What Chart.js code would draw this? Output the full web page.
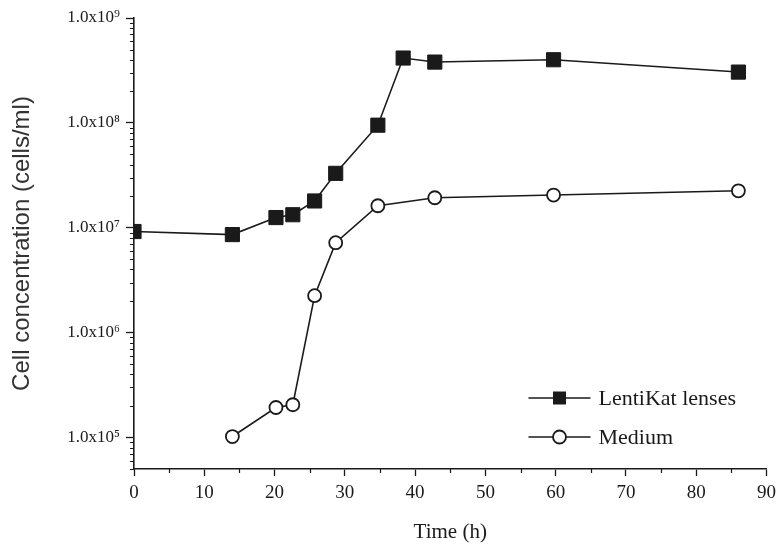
<!DOCTYPE html>
<html>
<head>
<meta charset="utf-8">
<script src="https://cdn.jsdelivr.net/npm/chart.js@4/dist/chart.umd.min.js"></script>
<style>
  html, body { margin: 0; padding: 0; background: #fff; }
  #wrap { width: 782px; height: 553px; }
</style>
</head>
<body>
<div id="wrap"><canvas id="chart" width="782" height="553"></canvas></div>
<script>
// time points (h) and cell counts (cells/ml)
const lentiTimes = [0, 14, 20.2, 22.6, 25.7, 28.7, 34.7, 38.3, 42.8, 59.7, 86];
const lentiCells = [9.2e6, 8.6e6, 1.25e7, 1.33e7, 1.8e7, 3.3e7, 9.5e7, 4.15e8, 3.8e8, 4.0e8, 3.05e8];
const mediumTimes = [14, 20.2, 22.6, 25.7, 28.7, 34.7, 42.8, 59.7, 86];
const mediumCells = [1.02e5, 1.93e5, 2.05e5, 2.25e6, 7.2e6, 1.62e7, 1.93e7, 2.05e7, 2.25e7];
const yMajorTicks = [1e5, 1e6, 1e7, 1e8, 1e9];
const seriesNames = ["LentiKat lenses", "Medium"];

const INK = "#1a1a1a";
const sup = { 5: "\u2075", 6: "\u2076", 7: "\u2077", 8: "\u2078", 9: "\u2079" };

const toPoints = (xs, ys) => xs.map((x, i) => ({ x: x, y: ys[i] }));

// minor ticks on both axes + legend drawn inside the plot
const extras = {
    id: "extras",
    afterDraw(chart) {
        const ctx = chart.ctx;
        const x = chart.scales.x;
        const y = chart.scales.y;
        ctx.save();
        ctx.strokeStyle = INK;
        ctx.lineWidth = 1.2;
        ctx.beginPath();
        for (let n = 4; n <= 8; n++) {
            for (let k = 2; k <= 9; k++) {
                const v = k * Math.pow(10, n);
                if (v < y.min || v > y.max) continue;
                const py = Math.round(y.getPixelForValue(v)) + 0.5;
                ctx.moveTo(y.right, py);
                ctx.lineTo(y.right - 4, py);
            }
        }
        for (let v = 5; v < 90; v += 10) {
            const px = Math.round(x.getPixelForValue(v)) + 0.5;
            ctx.moveTo(px, x.top);
            ctx.lineTo(px, x.top + 4);
        }
        ctx.stroke();

        // legend
        const area = chart.chartArea;
        const x0 = area.right - 238, x1 = area.right - 176, xm = area.right - 207;
        const rows = [area.bottom - 71, area.bottom - 32];
        ctx.font = "22px 'Liberation Serif'";
        ctx.textBaseline = "middle";
        ctx.fillStyle = INK;
        rows.forEach((ry, i) => {
            const ds = chart.data.datasets[i];
            ctx.strokeStyle = ds.borderColor;
            ctx.lineWidth = ds.borderWidth;
            ctx.beginPath();
            ctx.moveTo(x0, ry);
            ctx.lineTo(x1, ry);
            ctx.stroke();
            if (i === 0) {
                ctx.fillStyle = INK;
                ctx.fillRect(xm - 6.5, ry - 6.5, 13, 13);
            } else {
                ctx.beginPath();
                ctx.arc(xm, ry, 6.5, 0, Math.PI * 2);
                ctx.fillStyle = "#fff";
                ctx.fill();
                ctx.lineWidth = 1.8;
                ctx.stroke();
            }
            ctx.fillStyle = INK;
            ctx.fillText(seriesNames[i], x1 + 8, ry + 1);
        });
        ctx.restore();
    }
};

new Chart(document.getElementById("chart"), {
    type: "line",
    data: {
        datasets: [
            {
                label: seriesNames[0],
                data: toPoints(lentiTimes, lentiCells),
                borderColor: INK,
                borderWidth: 1.6,
                pointStyle: "rect",
                pointRadius: 10,
                pointBackgroundColor: INK,
                pointBorderColor: INK,
                pointBorderWidth: 1,
            },
            {
                label: seriesNames[1],
                data: toPoints(mediumTimes, mediumCells),
                borderColor: INK,
                borderWidth: 1.6,
                pointStyle: "circle",
                pointRadius: 6.5,
                pointBackgroundColor: "#fff",
                pointBorderColor: INK,
                pointBorderWidth: 1.8,
            },
        ],
    },
    options: {
        responsive: false,
        animation: false,
        layout: { padding: { top: 18, right: 11, left: 0, bottom: 0 } },
        plugins: { legend: { display: false }, tooltip: { enabled: false } },
        scales: {
            x: {
                type: "linear",
                min: 0,
                max: 90,
                ticks: {
                    stepSize: 10,
                    color: INK,
                    padding: 6,
                    font: { family: "'Liberation Serif'", size: 19 },
                },
                grid: { drawOnChartArea: false, drawTicks: true, tickLength: 7, tickColor: INK, tickWidth: 1.3 },
                border: { color: INK, width: 1.6 },
                title: {
                    display: true,
                    text: "Time (h)",
                    color: INK,
                    font: { family: "'Liberation Serif'", size: 21 },
                    padding: { top: 0, bottom: 8 },
                },
                afterFit: (s) => { s.height = 84; },
            },
            y: {
                type: "logarithmic",
                min: 5e4,
                max: 1e9,
                afterBuildTicks: (s) => { s.ticks = yMajorTicks.map((v) => ({ value: v })); },
                ticks: {
                    color: INK,
                    padding: 6,
                    font: { family: "'Liberation Serif'", size: 17 },
                    callback: (v) => "1.0x10" + sup[Math.round(Math.log10(v))],
                },
                grid: { drawOnChartArea: false, drawTicks: true, tickLength: 8, tickColor: INK, tickWidth: 1.3 },
                border: { color: INK, width: 1.6 },
                title: {
                    display: true,
                    text: "Cell concentration (cells/ml)",
                    color: "#333",
                    font: { family: "'Liberation Sans'", size: 24 },
                    padding: { top: 8, bottom: 0 },
                },
                afterFit: (s) => { s.width = 134; },
            },
        },
    },
    plugins: [extras],
});
</script>
</body>
</html>
